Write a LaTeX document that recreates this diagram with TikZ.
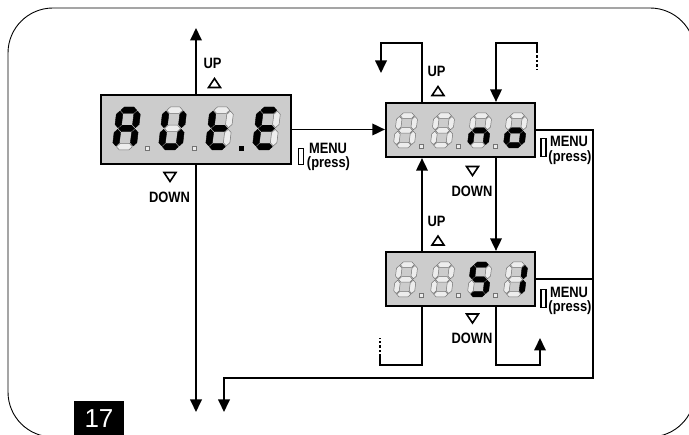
\documentclass[tikz,border=0pt]{standalone}
\usepackage{fontspec}
\setmainfont{Liberation Sans}
\newfontfamily\lblfont[FakeStretch=0.86]{Liberation Sans}
\usetikzlibrary{arrows.meta}

\newcommand\segdims[4]{%
 \pgfmathsetmacro\sW{#1}\pgfmathsetmacro\sH{#2}\pgfmathsetmacro\sT{#3}\pgfmathsetmacro\sG{#4}%
 \pgfmathsetmacro\xL{\sT/2}\pgfmathsetmacro\xR{\sW-\sT/2}%
 \pgfmathsetmacro\yB{\sT/2}\pgfmathsetmacro\yM{\sH/2}\pgfmathsetmacro\yT{\sH-\sT/2}%
 \pgfmathsetmacro\hT{\sT/2}}
\newcommand\hs[2]{\filldraw[#1] ({\xL+\sG},{#2}) -- ({\xL+\sG+\hT},{#2+\hT}) -- ({\xR-\sG-\hT},{#2+\hT}) -- ({\xR-\sG},{#2}) -- ({\xR-\sG-\hT},{#2-\hT}) -- ({\xL+\sG+\hT},{#2-\hT}) -- cycle;}
\newcommand\vs[4]{\filldraw[#1] ({#2},{#3+\sG}) -- ({#2+\hT},{#3+\sG+\hT}) -- ({#2+\hT},{#4-\sG-\hT}) -- ({#2},{#4-\sG}) -- ({#2-\hT},{#4-\sG-\hT}) -- ({#2-\hT},{#3+\sG+\hT}) -- cycle;}
\newcommand\sseg[9]{\begin{scope}[shift={(#1,#2)},y=1pt,xslant=0.12]
 \hs{#3}{\yT}\vs{#4}{\xR}{\yM}{\yT}\vs{#5}{\xR}{\yB}{\yM}\hs{#6}{\yB}\vs{#7}{\xL}{\yB}{\yM}\vs{#8}{\xL}{\yM}{\yT}\hs{#9}{\yM}\end{scope}}
\newcommand\sdot[4]{\filldraw[#1] ({#2-#4},{#3-#4}) rectangle ({#2+#4},{#3+#4});}
\newcommand\uptri[2]{\draw[tri] ({#1-6},{#2+4.5}) -- ({#1+6},{#2+4.5}) -- ({#1},{#2-4.5}) -- cycle;}
\newcommand\dntri[2]{\draw[tri] ({#1-6},{#2-4.5}) -- ({#1+6},{#2-4.5}) -- ({#1},{#2+4.5}) -- cycle;}

\begin{document}
\begin{tikzpicture}[x=1pt,y=-1pt,
  conn/.style={line width=1.8pt},
  arr/.style={conn,-{Triangle[length=12.5pt,width=11.5pt]}},
  disp/.style={draw=black,line width=2.2pt,fill=black!20,inner sep=0pt},
  segon/.style={fill=black,draw=black,line width=0.4pt},
  segoff/.style={fill=white!93!black,draw=black!55,line width=0.5pt},
  lbl/.style={font=\lblfont\bfseries\fontsize{15}{15}\selectfont, inner sep=0pt},
  tri/.style={line width=1.6pt, line join=miter},
  menubtn/.style={draw, line width=1.5pt}]
\useasboundingbox (0,0) rectangle (689,435);
\clip (0,0) rectangle (689,435);
% frame
\draw[line width=0.9pt, rounded corners=45pt] (8,8) rectangle (695,437);
% displays
\node[disp, minimum width=190pt, minimum height=69pt] (d1) at (196,129.5) {};
\node[disp, minimum width=149pt, minimum height=54pt] (d2) at (460.5,130) {};
\node[disp, minimum width=149pt, minimum height=54pt] (d3) at (460.5,279) {};
% display 1 digits: A U t E
\segdims{24}{43}{6.5}{0.8}
\sseg{112}{150}{segon}{segon}{segon}{segoff}{segon}{segon}{segon}
\sseg{158}{150}{segoff}{segon}{segon}{segon}{segon}{segon}{segoff}
\sseg{205}{150}{segoff}{segoff}{segoff}{segon}{segon}{segon}{segon}
\sseg{252}{150}{segon}{segoff}{segoff}{segon}{segon}{segon}{segon}
\sdot{segoff}{147}{148}{2.2}
\sdot{segoff}{194}{148}{2.2}
\sdot{segon}{241}{148}{2.2}
% display 2 digits: 8 8 n o
\segdims{21}{35}{5.5}{0.7}
\sseg{393}{148}{segoff}{segoff}{segoff}{segoff}{segoff}{segoff}{segoff}
\sseg{430}{148}{segoff}{segoff}{segoff}{segoff}{segoff}{segoff}{segoff}
\sseg{467}{148}{segoff}{segoff}{segon}{segoff}{segon}{segoff}{segon}
\sseg{503}{148}{segoff}{segoff}{segon}{segon}{segon}{segoff}{segon}
\sdot{segoff}{421.7}{146}{2}
\sdot{segoff}{458}{146}{2}
\sdot{segoff}{495}{146}{2}
% display 3 digits: 8 8 S I
\sseg{393}{297}{segoff}{segoff}{segoff}{segoff}{segoff}{segoff}{segoff}
\sseg{430}{297}{segoff}{segoff}{segoff}{segoff}{segoff}{segoff}{segoff}
\sseg{467}{297}{segon}{segoff}{segon}{segon}{segoff}{segon}{segon}
\sseg{503}{297}{segoff}{segon}{segon}{segoff}{segoff}{segoff}{segoff}
\sdot{segoff}{421.7}{295}{2}
\sdot{segoff}{458}{295}{2}
\sdot{segoff}{495}{295}{2}
% coordinates
\coordinate (t1) at (196,28);
\coordinate (b1) at (196,412);
\coordinate (b2) at (224,412);
\coordinate (lp) at (593,378);
\coordinate (ua) at (422,43);
\coordinate (ub) at (381,73);
\coordinate (ia) at (537,43);
\coordinate (ic) at (537,51);
\coordinate (id) at (537,70);
\coordinate (ra) at (496,365);
\coordinate (rb) at (540,338);
\coordinate (la) at (422,365);
\coordinate (lc) at (380,357);
\coordinate (lb) at (380,338);
% connectors
\draw[arr] (d1.north) -- (t1);
\draw[arr] (d1.south) -- (b1);
\draw[arr] (d1.east) -- (d1.east -| d2.west);
\draw[arr] (ua |- d2.north) -- (ua) -- (ua -| ub) -- (ub);
\draw[arr] (ic) -- (ia) -- (ia -| ra) -- (ra |- d2.north);
\draw[line width=1.5pt, dash pattern=on 2.5pt off 2pt] (ic) -- (id);
\draw[arr] (ra |- d2.south) -- (ra |- d3.north);
\draw[arr] (ua |- d3.north) -- (ua |- d2.south);
\draw[conn] (ua |- d3.south) -- (la) -- (la -| lc) -- (lc);
\draw[line width=1.5pt, dash pattern=on 2.5pt off 2pt] (lc) -- (lb);
\draw[arr] (ra |- d3.south) -- (ra) -- (ra -| rb) -- (rb);
\draw[arr] (d2.east) -- (d2.east -| lp) -- (lp) -- (lp -| b2) -- (b2);
\draw[conn] (d3.east) -- (d3.east -| lp);
% labels display 1
\node[lbl] (up1) at (212.5,63) {UP};
\uptri{214.5}{83}
\dntri{170}{177}
\node[lbl] (down1) at (169.5,197.5) {DOWN};
\draw[menubtn] (298.5,148.5) rectangle (303.5,164.5);
\node[lbl] (menu1) at (328,148.5) {MENU};
\node[lbl] (press1) at (328.5,164) {(press)};
% labels display 2
\node[lbl] (up2) at (436.5,71) {UP};
\uptri{438}{91}
\dntri{472.5}{171}
\node[lbl] (down2) at (472,191) {DOWN};
\draw[menubtn] (541,138.5) rectangle (546,156.5);
\node[lbl] (menu2) at (569,141) {MENU};
\node[lbl] (press2) at (570,158) {(press)};
% labels display 3
\node[lbl] (up3) at (436.5,221) {UP};
\uptri{438}{240.5}
\dntri{472.5}{318.5}
\node[lbl] (down3) at (472,338) {DOWN};
\draw[menubtn] (541,289.5) rectangle (546,307.5);
\node[lbl] (menu3) at (569,292) {MENU};
\node[lbl] (press3) at (570,308) {(press)};
% figure number
\node[fill=black, text=white, minimum width=50pt, minimum height=36pt, inner sep=0pt, font=\fontsize{26}{26}\selectfont] (fig) at (99,419) {17};
\end{tikzpicture}
\end{document}
